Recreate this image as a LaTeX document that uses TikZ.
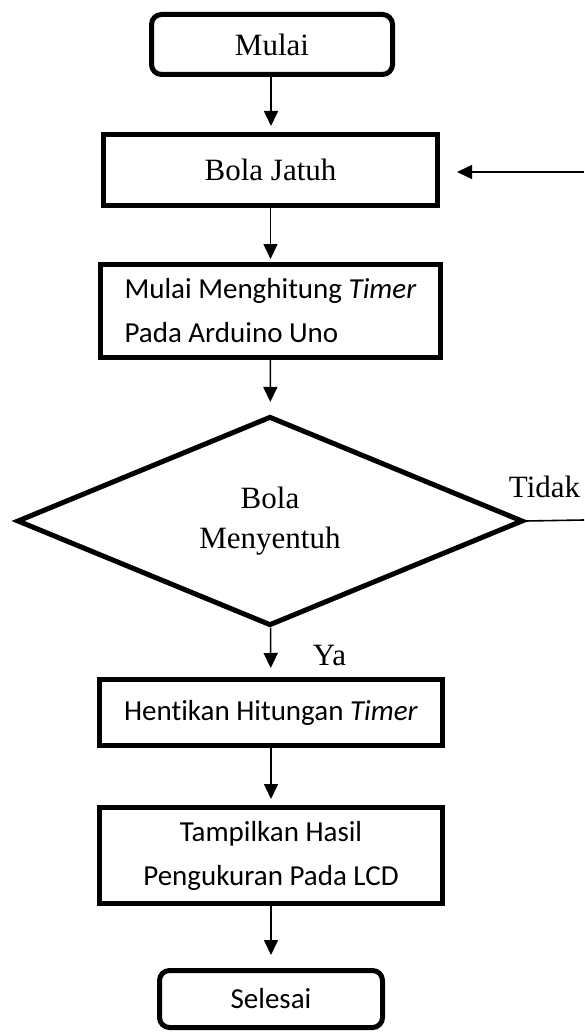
\documentclass[tikz,border=0pt]{standalone}
\usepackage{fontspec}
\setmainfont{Liberation Serif}
\newfontfamily\calfont[Ligatures=NoCommon]{Carlito}
\usetikzlibrary{shapes.geometric,arrows.meta}
\begin{document}
\begin{tikzpicture}[x=1pt,y=-1pt,
  box/.style={draw,line width=5pt,inner sep=0pt,align=center},
  serif/.style={font=\fontsize{31}{40}\selectfont},
  sans/.style={font=\calfont\fontsize{29}{44}\selectfont},
  term/.style={box,rounded corners=10pt},
  arr/.style={line width=1.6pt,-{Triangle[length=15pt,width=14pt]}},
  lbl/.style={inner sep=0pt,anchor=base,font=\fontsize{31}{40}\selectfont}]
\useasboundingbox (0,0) rectangle (584,1032);

\node[term,serif,minimum width=241pt,minimum height=60pt] (mulai) at (272,44.5) {Mulai};
\node[box,serif,minimum width=334pt,minimum height=71pt] (jatuh) at (270.5,170) {Bola Jatuh};
\node[box,sans,align=left,minimum width=340pt,minimum height=93pt] (hitung) at (270.5,311)
  {Mulai Menghitung \textit{Timer}\\Pada Arduino Uno};
\node[draw,line width=5pt,shape=diamond,inner sep=0pt,align=center,serif,
  minimum width=506pt,minimum height=186pt] (sentuh) at (270,521) {Bola\\Menyentuh};
\node[box,sans,minimum width=343pt,minimum height=66pt] (henti) at (271,712.5)
  {Hentikan Hitungan \textit{Timer}};
\node[box,sans,minimum width=343pt,minimum height=96pt] (tampil) at (271,855.5)
  {Tampilkan Hasil\\Pengukuran Pada LCD};
\node[term,sans,minimum width=223pt,minimum height=57pt] (selesai) at (271,999) {Selesai};

\coordinate (tidakR) at (584,520);
\coordinate (balikR) at (584,172);

\draw[arr,shorten >=6pt] (mulai.south -| 271,0) -- (jatuh.north -| 271,0);
\draw[arr,shorten >=3pt] (jatuh) -- (hitung);
\draw[arr,shorten >=12pt] (hitung) -- (sentuh);
\draw[arr,shorten >=9pt] (sentuh) -- (henti);
\draw[arr,shorten >=6pt] (henti) -- (tampil);
\draw[arr,shorten >=13pt] (tampil) -- (selesai);
\draw[line width=1.6pt] (sentuh.east) -- (tidakR);
\draw[arr,shorten >=17pt] (balikR) -- (jatuh.east |- balikR);

\node[lbl] (tidak) at (544.5,497) {Tidak};
\node[lbl] (ya) at (329.5,665) {Ya};
\end{tikzpicture}
\end{document}
